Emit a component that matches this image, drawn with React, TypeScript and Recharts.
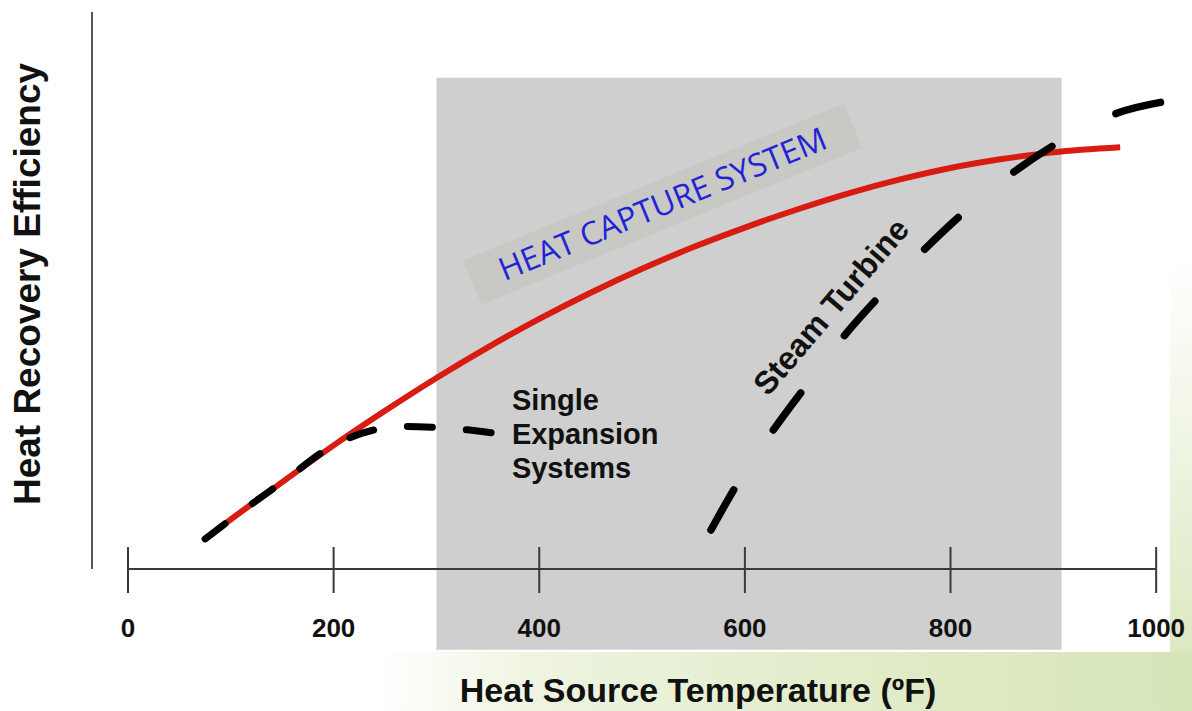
import React from "react";
import {
  ComposedChart,
  Line,
  XAxis,
  YAxis,
  ReferenceArea,
  ReferenceLine,
  ReferenceDot,
} from "recharts";

// heat capture system (red curve)
const heatCaptureTemps = [75, 100, 150, 200, 250, 300, 350, 400, 450, 500, 550, 600, 650, 700, 750, 800, 850, 900, 965];
const heatCaptureEff = [5.4, 8.9, 15.6, 22.2, 28.4, 34.3, 39.8, 44.9, 49.6, 53.9, 57.8, 61.3, 64.5, 67.4, 69.9, 72.0, 73.6, 74.8, 75.7];

// single expansion systems (dashed)
const singleExpTemps = [75, 100, 150, 200, 240, 270, 300, 330, 355];
const singleExpEff = [5.4, 8.9, 15.6, 22.2, 25.0, 25.6, 25.4, 25.0, 24.4];

// steam turbine (dashed)
const steamTemps = [567, 593, 629, 660, 699, 734, 777, 816, 864, 906, 963, 1011];
const steamEff = [7.0, 15.4, 25.3, 33.0, 42.4, 49.6, 57.8, 64.5, 71.6, 76.7, 81.9, 84.0];

const xTicks = [0, 200, 400, 600, 800, 1000];
const shadedTemps = [300, 908];

const X_TITLE = "Heat Source Temperature (ºF)";
const Y_TITLE = "Heat Recovery Efficiency";

const ARIAL = "Arial, 'Liberation Sans', Helvetica, sans-serif";

const heatCaptureData = heatCaptureTemps.map((x, i) => ({ x, y: heatCaptureEff[i] }));
const singleExpData = singleExpTemps.map((x, i) => ({ x, y: singleExpEff[i] }));
const steamData = steamTemps.map((x, i) => ({ x, y: steamEff[i] }));

const XTick = (props: any) => {
  const { x, y, payload } = props;
  return (
    <g>
      <line x1={x} x2={x} y1={y - 22} y2={y + 24} stroke="#3a3a3a" strokeWidth={2} />
      <text
        x={x}
        y={y + 68}
        textAnchor="middle"
        fontFamily={ARIAL}
        fontWeight="bold"
        fontSize={26}
        fill="#111"
      >
        {payload.value}
      </text>
    </g>
  );
};

export default function App() {
  return (
    <div
      style={{
        position: "absolute",
        left: 0,
        top: 0,
        width: 1192,
        height: 711,
        background: "#fff",
        overflow: "hidden",
      }}
    >
      {/* grass-ish backdrop behind the white panel */}
      <div
        style={{
          position: "absolute",
          left: 0,
          top: 652,
          width: 1192,
          height: 59,
          background:
            "linear-gradient(to right, #ffffff 0%, #ffffff 32%, #eef4e0 45%, #e2ecca 70%, #d6e5b8 100%)",
        }}
      />
      <div
        style={{
          position: "absolute",
          left: 1170,
          top: 260,
          width: 22,
          height: 392,
          background: "linear-gradient(to bottom, #ffffff, #dce9c2)",
        }}
      />
      <div style={{ position: "absolute", left: 0, top: 0 }}>
        <ComposedChart
          width={1192}
          height={711}
          margin={{ top: 12, right: 5, bottom: 0, left: 0 }}
        >
          <ReferenceArea
            x1={shadedTemps[0]}
            x2={shadedTemps[1]}
            y1={-14.5}
            y2={88.2}
            fill="#cfcfcf"
            fillOpacity={1}
            stroke="none"
            ifOverflow="visible"
          />
          <XAxis
            type="number"
            dataKey="x"
            domain={[-35, 1030]}
            ticks={xTicks}
            tick={<XTick />}
            tickSize={0}
            tickMargin={0}
            tickLine={false}
            axisLine={false}
            height={142}
            label={{
              content: () => (
                <text
                  x={698}
                  y={702}
                  textAnchor="middle"
                  fontFamily={ARIAL}
                  fontWeight="bold"
                  fontSize={34}
                  fill="#111"
                >
                  {X_TITLE}
                </text>
              ),
            }}
          />
          <YAxis
            type="number"
            domain={[0, 100]}
            width={92}
            tick={false}
            tickLine={false}
            axisLine={{ stroke: "#555", strokeWidth: 2 }}
            label={{
              content: () => (
                <text
                  transform="translate(40,284) rotate(-90)"
                  textAnchor="middle"
                  fontFamily={ARIAL}
                  fontWeight="bold"
                  fontSize={37}
                  fill="#111"
                >
                  {Y_TITLE}
                </text>
              ),
            }}
          />
          <ReferenceLine
            segment={[
              { x: 0, y: 0 },
              { x: 1000, y: 0 },
            ]}
            stroke="#3a3a3a"
            strokeWidth={2}
            ifOverflow="visible"
          />
          <Line
            data={heatCaptureData}
            dataKey="y"
            type="monotone"
            stroke="#d81c12"
            strokeWidth={6}
            dot={false}
            activeDot={false}
            isAnimationActive={false}
          />
          <Line
            data={singleExpData}
            dataKey="y"
            type="monotone"
            stroke="#000"
            strokeWidth={7}
            strokeDasharray="25 34"
            strokeLinecap="round"
            dot={false}
            activeDot={false}
            isAnimationActive={false}
          />
          <Line
            data={steamData}
            dataKey="y"
            type="monotone"
            stroke="#000"
            strokeWidth={7.5}
            strokeDasharray="46 72"
            strokeLinecap="round"
            dot={false}
            activeDot={false}
            isAnimationActive={false}
          />
          <ReferenceDot
            x={520}
            y={65.5}
            ifOverflow="visible"
            shape={(p: any) => (
              <g transform={`translate(${p.cx},${p.cy}) rotate(-22.4)`}>
                <rect x={-206} y={-24} width={412} height={48} fill="#c8c9c5" />
                <text
                  x={0}
                  y={11}
                  textAnchor="middle"
                  fontFamily="'Open Sans', 'Noto Sans', sans-serif"
                  fontSize={32}
                  fill="#2323d6"
                >
                  HEAT CAPTURE SYSTEM
                </text>
              </g>
            )}
          />
          <ReferenceDot
            x={684.5}
            y={47}
            ifOverflow="visible"
            shape={(p: any) => (
              <g transform={`translate(${p.cx},${p.cy}) rotate(-49.5)`}>
                <text
                  x={0}
                  y={10}
                  textAnchor="middle"
                  fontFamily={ARIAL}
                  fontWeight="bold"
                  fontSize={32}
                  fill="#111"
                >
                  Steam Turbine
                </text>
              </g>
            )}
          />
          <ReferenceDot
            x={373.4}
            y={28.5}
            ifOverflow="visible"
            shape={(p: any) => (
              <text
                x={p.cx}
                y={p.cy}
                fontFamily={ARIAL}
                fontWeight="bold"
                fontSize={29}
                fill="#111"
              >
                <tspan x={p.cx} dy={0}>Single</tspan>
                <tspan x={p.cx} dy={33.7}>Expansion</tspan>
                <tspan x={p.cx} dy={33.7}>Systems</tspan>
              </text>
            )}
          />
        </ComposedChart>
      </div>
    </div>
  );
}
